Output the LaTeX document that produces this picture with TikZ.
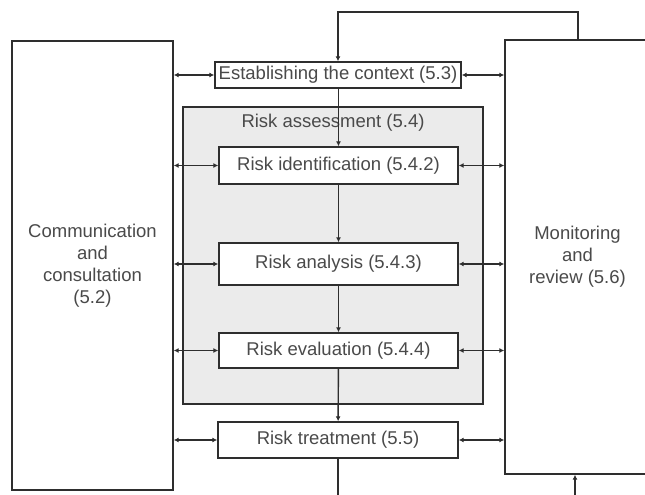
\documentclass[tikz,border=0pt]{standalone}
\usepackage{fontspec}
\setmainfont{Liberation Sans}
\definecolor{linecol}{HTML}{2E2E2E}
\definecolor{textcol}{HTML}{4A4A4A}
\definecolor{shadecol}{HTML}{EBEBEB}
\usetikzlibrary{arrows.meta}

\begin{document}
\begin{tikzpicture}[x=1pt, y=-1pt,
  box/.style={draw=linecol, line width=1.4pt, fill=white, text=textcol,
    font=\fontsize{18.5}{22}\selectfont, inner sep=0pt, align=center},
  flow/.style={linecol, line width=1.4pt, -{Latex[length=5pt,width=5pt]}},
  biflow/.style={linecol, line width=1.4pt,
    {Latex[length=5pt,width=5pt]}-{Latex[length=5pt,width=5pt]}}]

\useasboundingbox[fill=white] (0,0) rectangle (645,495);
\clip (0,0) rectangle (645,495);

% === SIDE BOXES ===
\node[box, minimum width=161pt, minimum height=449pt] (comm) at (92.5,265.5)
  {Communication\\and\\consultation\\(5.2)};
\node[box, minimum width=145pt, minimum height=434pt] (monitor) at (577.5,257)
  {Monitoring\\and\\review (5.6)};

% === RISK ASSESSMENT (shaded frame) ===
\node[box, fill=shadecol, minimum width=300pt, minimum height=297pt] (assess) at (333,255.5) {};
\node[text=textcol, font=\fontsize{18.5}{22}\selectfont] (assesslabel) at (333,123) {Risk assessment (5.4)};

% === PROCESS STEPS ===
\node[box, minimum width=246pt, minimum height=26pt] (context) at (338,75) {Establishing the context (5.3)};
\node[box, minimum width=239pt, minimum height=37pt] (ident) at (338.5,165.5) {Risk identification (5.4.2)};
\node[box, minimum width=239pt, minimum height=42pt] (analysis) at (338.5,264) {Risk analysis (5.4.3)};
\node[box, minimum width=239pt, minimum height=35pt] (evaluation) at (338.5,350.5) {Risk evaluation (5.4.4)};
\node[box, minimum width=240pt, minimum height=36pt] (treatment) at (338,440) {Risk treatment (5.5)};

% === MAIN FLOW ===
\draw[flow] (context.south -| ident.north) -- (ident.north);
\draw[flow] (ident) -- (analysis);
\draw[flow] (analysis) -- (evaluation);
\draw[flow] (evaluation) -- (treatment);
\coordinate (bottomout) at (338,495);
\draw[linecol, line width=1.4pt] (treatment) -- (bottomout);

% === FEEDBACK LOOPS ===
\coordinate (loopcorner) at (578,12);
\draw[flow] (loopcorner |- monitor.north) -- (loopcorner) -| (context.north);
\coordinate (bottomin) at (575,495);
\draw[flow] (bottomin) -- (bottomin |- monitor.south);

% === SIDE LINKS ===
\foreach \step in {context, ident, analysis, evaluation, treatment} {
  \draw[biflow] (comm.east |- \step.west) -- (\step.west);
  \draw[biflow] (\step.east) -- (monitor.west |- \step.east);
}

\end{tikzpicture}
\end{document}
